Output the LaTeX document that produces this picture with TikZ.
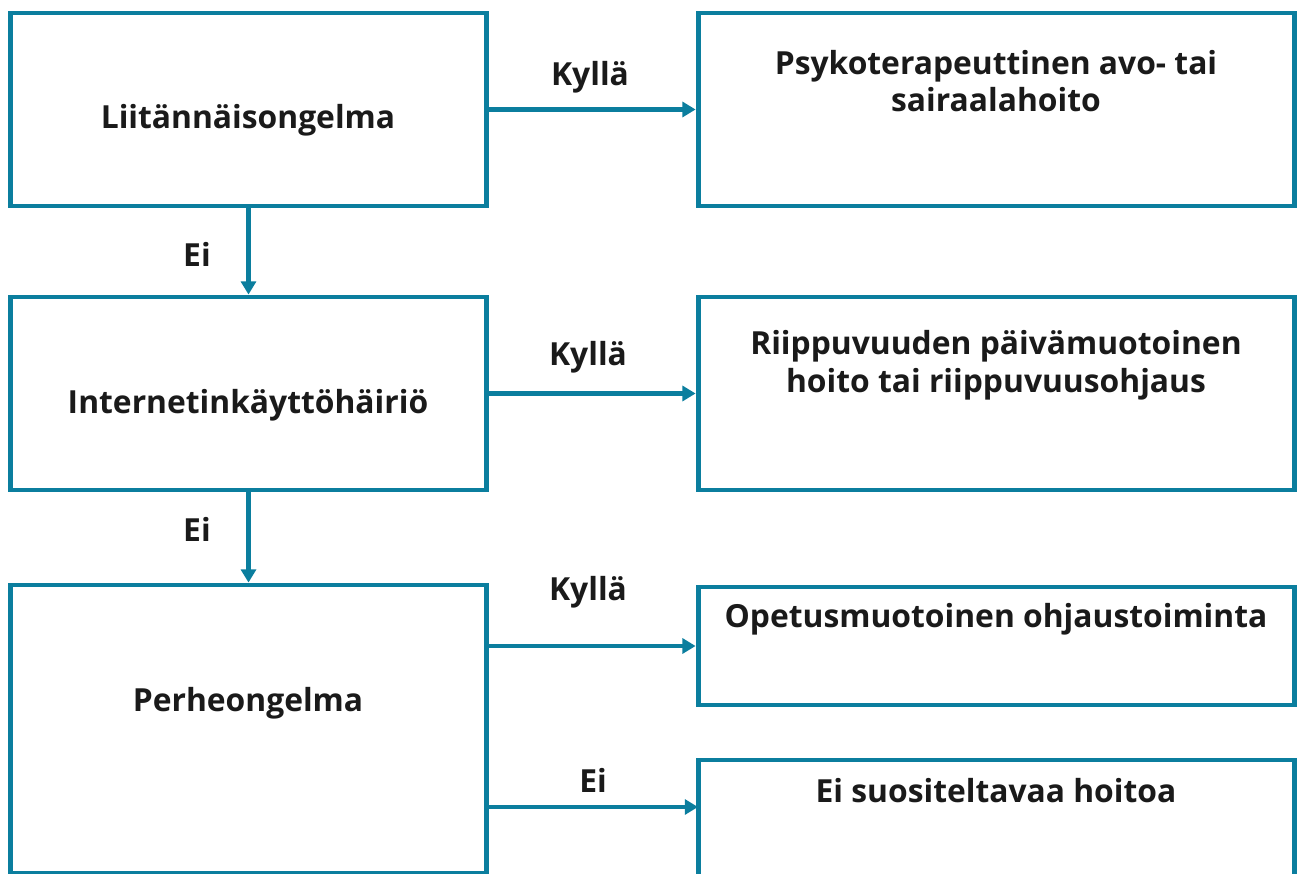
\documentclass[tikz,border=0pt]{standalone}
\usepackage{fontspec}
\setmainfont{Open Sans}
\usetikzlibrary{arrows.meta}
\definecolor{tealline}{HTML}{0B7E9E}
\definecolor{inktext}{HTML}{1A1A1A}

\tikzstyle{box}=[draw=tealline,line width=2.8pt,rectangle,inner sep=0pt]
\tikzstyle{caption}=[text=inktext,font=\fontsize{18.1}{21.5}\selectfont\bfseries,align=center]
\tikzstyle{link}=[draw=tealline,line width=2.8pt,-{Triangle[length=7.5pt,width=8.5pt]}]

\begin{document}
\begin{tikzpicture}[x=0.02cm,y=-0.02cm]
	\useasboundingbox (0,0) rectangle (1298,874);
	\clip (0,0) rectangle (1298,874);
			% left column
			\node[box,minimum width=9.54cm,minimum height=3.86cm] (l1) at (248.5,109.5) {};
			\node[box,minimum width=9.54cm,minimum height=3.86cm] (l2) at (248.5,393.5) {};
			\node[box,minimum width=9.54cm,minimum height=5.76cm] (l3) at (248.5,729) {};
			% right column
			\node[box,minimum width=11.94cm,minimum height=3.86cm] (r1) at (996.5,109.5) {};
			\node[box,minimum width=11.94cm,minimum height=3.86cm] (r2) at (996.5,393.5) {};
			\node[box,minimum width=11.94cm,minimum height=2.36cm] (r3) at (996.5,646) {};
			\node[box,minimum width=11.94cm,minimum height=4.6cm] (r4) at (996.5,875) {};
			\coordinate (r4in) at (698,807);
			% texts
			\node[caption] (t1) at (248,120) {Liitännäisongelma};
			\node[caption] (t2) at (248,405) {Internetinkäyttöhäiriö};
			\node[caption] (t3) at (248,703) {Perheongelma};
			\node[caption] (u1) at (996,81) {Psykoterapeuttinen avo- tai\\sairaalahoito};
			\node[caption] (u2) at (996,365) {Riippuvuuden päivämuotoinen\\hoito tai riippuvuusohjaus};
			\node[caption] (u3) at (996,619) {Opetusmuotoinen ohjaustoiminta};
			\node[caption] (u4) at (996,791) {Ei suositeltavaa hoitoa};
			% arrows
			\path[link] (l1) to (l2);
			\path[link] (l2) to (l3);
			\path[link] (l1) to (r1);
			\path[link] (l2) to (r2);
			\path[link] (l3.east |- r3.west) to (r3.west);
			\path[link] (l3.east |- r4in) to (r4in);
			% labels
			\node[caption] (e1) at (197,254) {Ei};
			\node[caption] (e2) at (197,529) {Ei};
			\node[caption] (k1) at (590,77) {Kyllä};
			\node[caption] (k2) at (588,357) {Kyllä};
			\node[caption] (k3) at (588,592) {Kyllä};
			\node[caption] (e3) at (593,780) {Ei};
		\end{tikzpicture}
\end{document}
